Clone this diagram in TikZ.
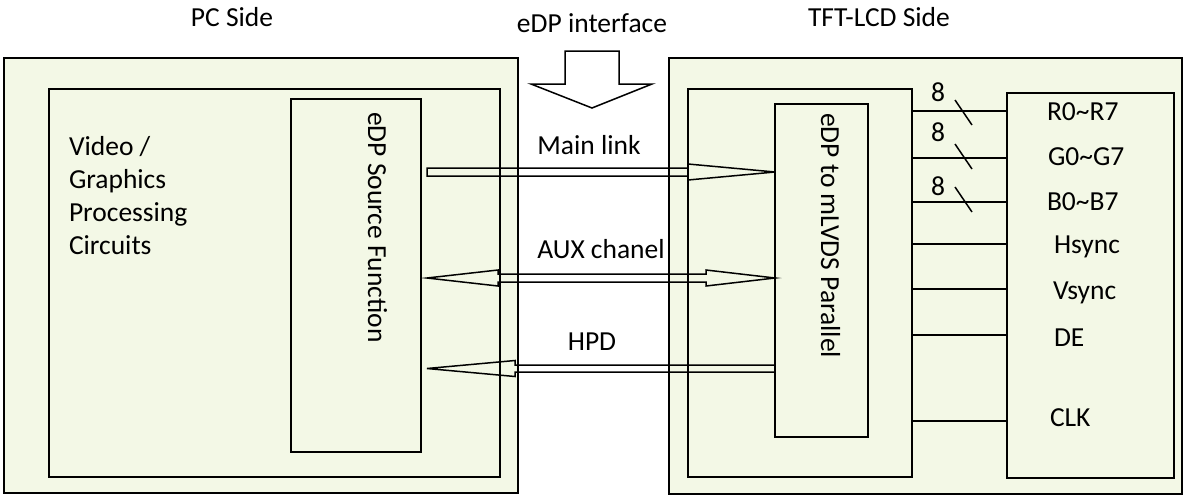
\documentclass[tikz,border=0pt]{standalone}
\usepackage{fontspec}
\setmainfont{Carlito}
\usetikzlibrary{calc}
\definecolor{boxfill}{RGB}{243,248,230}
\tikzset{
  box/.style={draw=black, line width=2pt, fill=boxfill, inner sep=0pt, outer sep=0pt, anchor=north west},
  plainbox/.style={draw=black, line width=2pt, inner sep=0pt, outer sep=0pt, anchor=north west},
  barrow/.style={draw=black, line width=1.5pt, line join=miter},
  sig/.style={draw=black, line width=1.9pt},
  slash/.style={draw=black, line width=1.5pt},
  lbl/.style={inner sep=0pt, outer sep=0pt, font=\fontsize{27.5}{33}\selectfont},
}
\begin{document}
\begin{tikzpicture}[x=1pt,y=-1pt]
\useasboundingbox (0,0) rectangle (1184,496);
% PC side
\node[box, minimum width=514pt, minimum height=435pt] (pcOuter) at (4,58) {};
\node[plainbox, minimum width=451pt, minimum height=388pt] (pcInner) at (49,89) {};
\node[plainbox, minimum width=130pt, minimum height=353pt] (src) at (291,99) {};
% TFT side
\node[box, minimum width=513pt, minimum height=436pt] (lcdOuter) at (669,58) {};
\node[plainbox, minimum width=224pt, minimum height=388pt] (rInner) at (688,89) {};
\node[plainbox, minimum width=93pt, minimum height=333pt] (mlvds) at (775,104) {};
\node[plainbox, minimum width=167pt, minimum height=385pt] (lcd) at (1007,93) {};
% titles
\node[lbl, anchor=base] (tPC) at (232,26) {PC Side};
\node[lbl, anchor=base] (tIF) at (592,32) {eDP interface};
\node[lbl, anchor=base] (tLCD) at (879,26) {TFT-LCD Side};
% interface arrow
\draw[barrow] (565,51) -- (619,51) -- (619,84) -- (652,84) -- (592,108) -- (531,84) -- (565,84) -- cycle;
% texts in boxes
\node[lbl, anchor=base west] (v1) at (69,155) {Video /};
\node[lbl, anchor=base west] (v2) at (69,188) {Graphics};
\node[lbl, anchor=base west] (v3) at (69,221) {Processing};
\node[lbl, anchor=base west] (v4) at (69,254) {Circuits};
\node[lbl, anchor=base west, rotate=-90] (srcText) at (368,112) {eDP Source Function};
\node[lbl, anchor=base west, rotate=-90] (mlvdsText) at (821,113) {eDP to mLVDS Parallel};
% link labels
\node[lbl, anchor=base] (lMain) at (589,154) {Main link};
\node[lbl, anchor=base] (lAux) at (601,258) {AUX chanel};
\node[lbl, anchor=base] (lHpd) at (592,350) {HPD};
% main link arrow (source -> mLVDS)
\coordinate (ym) at (0,172);
\coordinate (ma) at ($(src.east |- ym)+(6,0)$);
\coordinate (mb) at (mlvds.west |- ym);
\draw[barrow] ($(ma)+(0,-4)$) -- ++(261,0) -- ++(0,-4) -- (mb) -- ++(-87,8) -- ++(0,-4) -- ++(-261,0) -- cycle;
% AUX double arrow
\coordinate (ya) at (0,278);
\coordinate (aa) at ($(src.east |- ya)+(6,0)$);
\coordinate (ab) at (mlvds.west |- ya);
\draw[barrow] (aa) -- ++(71,-8) -- ++(0,4) -- ++(208,0) -- ++(0,-4) -- (ab) -- ++(-69,8) -- ++(0,-4) -- ++(-208,0) -- ++(0,4) -- cycle;
% HPD arrow (mLVDS -> source)
\coordinate (yh) at (0,368.5);
\coordinate (ha) at ($(src.east |- yh)+(6,0)$);
\coordinate (hb) at (mlvds.west |- yh);
\draw[barrow] (ha) -- ++(88,-8) -- ++(0,4.5) -- ($(hb)+(0,-3.5)$) -- ++(0,7) -- ++(-260,0) -- ++(0,4.5) -- cycle;
% signal lines
\foreach \n/\y in {R/110.7,G/157.7,B/201.7,H/244.3,V/289.3,D/335,C/420.7}{
  \coordinate (s\n) at (0,\y);
  \draw[sig] (rInner.east |- s\n) -- (lcd.west |- s\n);
}
% bus slashes and widths
\draw[slash] (955,100) -- (972,125);
\draw[slash] (955,144) -- (972,169);
\draw[slash] (955,187) -- (972,212);
\node[lbl, anchor=base] (w1) at (938,101.7) {8};
\node[lbl, anchor=base] (w2) at (938,141.7) {8};
\node[lbl, anchor=base] (w3) at (938,195) {8};
% LCD labels
\node[lbl, anchor=base west] (pR) at (1047,120) {R0\char"7E R7};
\node[lbl, anchor=base west] (pG) at (1048,165) {G0\char"7E G7};
\node[lbl, anchor=base west] (pB) at (1047,210.7) {B0\char"7E B7};
\node[lbl, anchor=base west] (pH) at (1054,253) {Hsync};
\node[lbl, anchor=base west] (pV) at (1053,299) {Vsync};
\node[lbl, anchor=base west] (pD) at (1054,346.7) {DE};
\node[lbl, anchor=base west] (pC) at (1050,426.7) {CLK};
\end{tikzpicture}
\end{document}
